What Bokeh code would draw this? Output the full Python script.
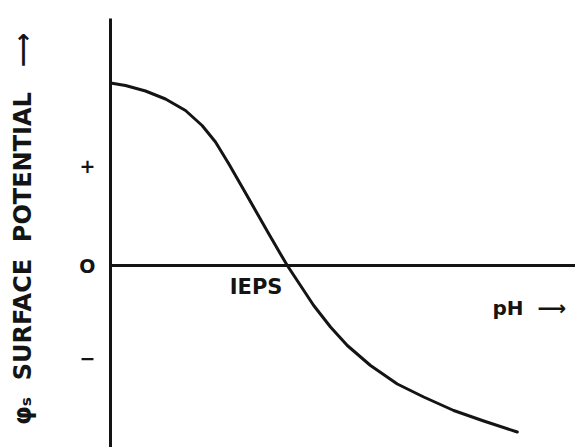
from bokeh.plotting import figure
from bokeh.models import Range1d, LinearAxis, FixedTicker, Span, Label
from bokeh.embed import file_html
from bokeh.resources import INLINE

# pH (arbitrary units from the axis) and surface potential (arbitrary units)
ph = [0, 0.375, 0.875, 1.375, 1.875, 2.29, 2.625, 2.96, 3.29, 3.625, 3.96, 4.25, 4.42,
      4.75, 5.08, 5.5, 5.92, 6.5, 7.17, 7.83, 8.58, 9.33, 10.17]
psi = [3.65, 3.6, 3.49, 3.33, 3.1, 2.8, 2.47, 2.03, 1.57, 1.1, 0.63, 0.23, 0.0,
       -0.4, -0.8, -1.23, -1.6, -2.0, -2.37, -2.63, -2.9, -3.11, -3.33]

y_ticks = [-1.85, 0, 2.0]
y_tick_labels = ["−", "O", "+"]

INK = "#141414"
FONT = "DejaVu Sans"
NB = "\u00a0"

p = figure(width=575, height=447, output_backend="svg", toolbar_location=None,
           x_range=Range1d(0, 11.625), y_range=Range1d(-3.64, 4.94),
           x_axis_location=None, y_axis_location=None,
           min_border_left=110, min_border_top=18, min_border_right=0, min_border_bottom=0)
p.grid.visible = False
p.outline_line_color = None
p.background_fill_color = "white"

yaxis = LinearAxis(
    ticker=FixedTicker(ticks=y_ticks),
    major_label_overrides={t: l for t, l in zip(y_ticks, y_tick_labels)},
    major_tick_line_color=None, minor_tick_line_color=None,
    axis_line_width=3, axis_line_color=INK,
    major_label_text_font=FONT, major_label_text_font_size="19px",
    major_label_text_font_style="bold", major_label_text_color=INK,
    major_label_standoff=9,
    axis_label=NB + "φₛ" + NB * 2 + "SURFACE" + NB * 2 + "POTENTIAL" + NB * 3 + "⟶",
    axis_label_text_font=FONT, axis_label_text_font_size="24px",
    axis_label_text_font_style="bold", axis_label_text_color=INK,
    axis_label_standoff=39,
)
p.add_layout(yaxis, "left")

p.add_layout(Span(location=0, dimension="width", line_color=INK, line_width=3))

p.line(ph, psi, line_color=INK, line_width=3, line_join="round", line_cap="round")

p.add_layout(Label(x=3.64, y=-0.43, text="IEPS", text_align="center", text_baseline="middle",
                   text_font=FONT, text_font_size="21px", text_font_style="bold", text_color=INK))
p.add_layout(Label(x=9.55, y=-0.84, text="pH" + NB * 2 + "⟶", text_align="left",
                   text_baseline="alphabetic",
                   text_font=FONT, text_font_size="20px", text_font_style="bold", text_color=INK))

open("out.html", "w").write(file_html(p, INLINE))
